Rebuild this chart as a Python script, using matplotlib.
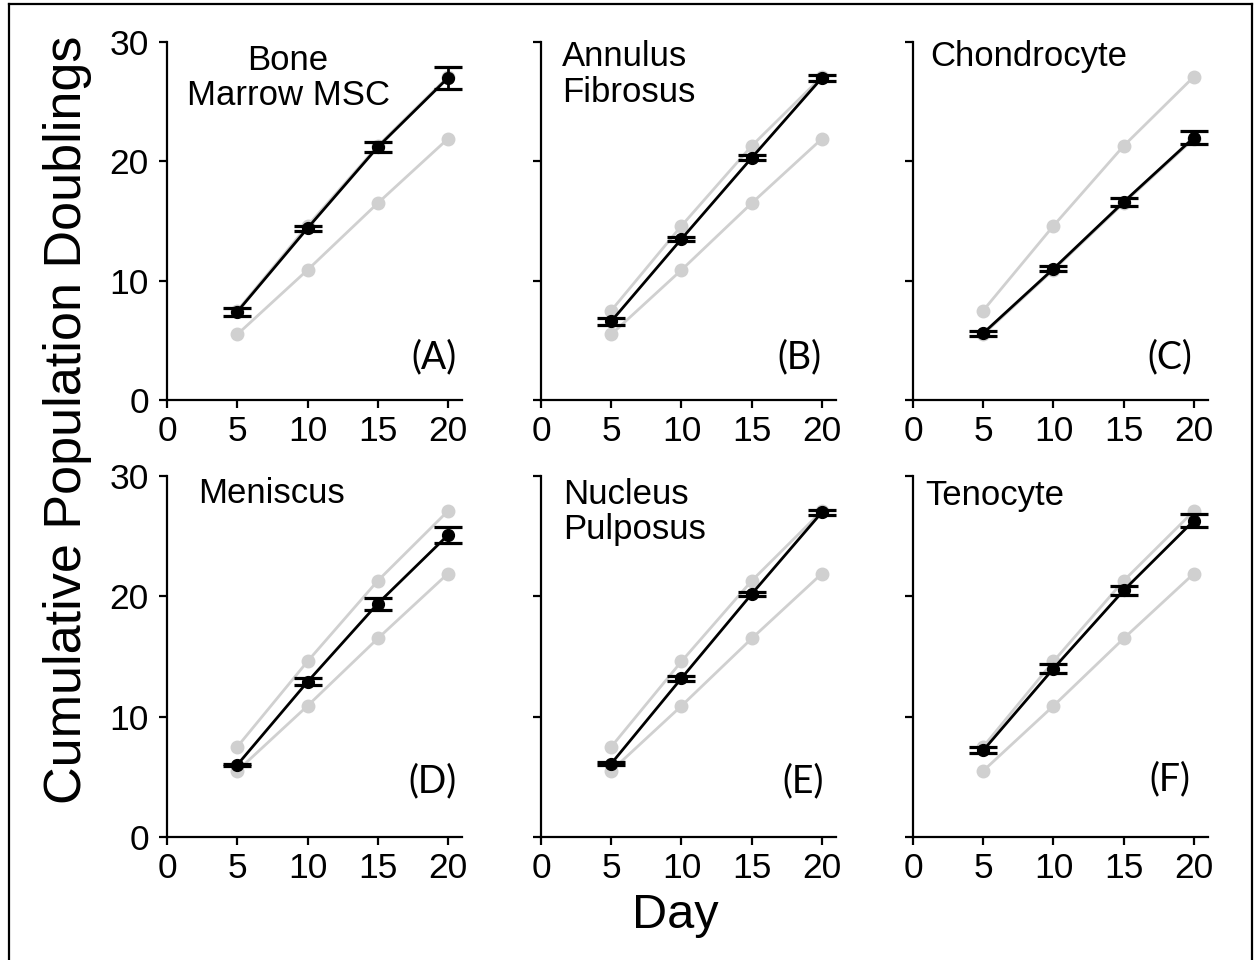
import matplotlib
matplotlib.use("Agg")
import matplotlib.pyplot as plt
from matplotlib.lines import Line2D

plt.rcParams['font.family'] = ['Liberation Sans', 'DejaVu Sans']

# data
days = [5, 10, 15, 20]
x_ticks = [0, 5, 10, 15, 20]
y_ticks = [0, 10, 20, 30]

panel_names = ["Bone\nMarrow MSC", "Annulus\nFibrosus", "Chondrocyte",
               "Meniscus", "Nucleus\nPulposus", "Tenocyte"]
panel_tags = ["(A)", "(B)", "(C)", "(D)", "(E)", "(F)"]

bm_msc = [7.4, 14.4, 21.2, 27.0]
bm_msc_err = [0.35, 0.2, 0.45, 0.9]
annulus = [6.6, 13.5, 20.3, 27.0]
annulus_err = [0.3, 0.15, 0.2, 0.25]
chondro = [5.6, 11.0, 16.6, 22.0]
chondro_err = [0.2, 0.2, 0.35, 0.55]
meniscus = [6.0, 12.9, 19.4, 25.1]
meniscus_err = [0.1, 0.3, 0.5, 0.65]
nucleus = [6.1, 13.2, 20.2, 27.0]
nucleus_err = [0.1, 0.2, 0.2, 0.2]
tenocyte = [7.2, 14.0, 20.5, 26.3]
tenocyte_err = [0.25, 0.35, 0.4, 0.55]

# grey reference curves (highest and lowest group)
ref_high = [7.5, 14.6, 21.3, 27.1]
ref_low = [5.5, 10.9, 16.5, 21.9]

means = [bm_msc, annulus, chondro, meniscus, nucleus, tenocyte]
errs = [bm_msc_err, annulus_err, chondro_err, meniscus_err, nucleus_err, tenocyte_err]

# layout (figure fractions)
lefts = [0.1329, 0.4304, 0.7263]
bottoms = [0.5833, 0.1281]
heights = [0.3729, 0.376]
width = 0.2347

# panel title placement in axes fraction: (x, y, ha)
title_pos = [(0.41, 0.9, 'center'), (0.07, 0.91, 'left'), (0.06, 0.96, 'left'),
             (0.105, 0.953, 'left'), (0.075, 0.9, 'left'), (0.04, 0.946, 'left')]
tag_pos = [(0.905, 0.12), (0.875, 0.12), (0.87, 0.12),
           (0.9, 0.155), (0.89, 0.155), (0.87, 0.16)]

gray = '#d0d0d0'

fig = plt.figure(figsize=(12.57, 9.6), dpi=100)

for i in range(6):
    r, c = divmod(i, 3)
    ax = fig.add_axes([lefts[c], bottoms[r], width, heights[r]])
    ax.plot(days, ref_high, '-o', color=gray, lw=2, ms=9, zorder=2, clip_on=False)
    ax.plot(days, ref_low, '-o', color=gray, lw=2, ms=9, zorder=2, clip_on=False)
    ax.errorbar(days, means[i], yerr=errs[i], fmt='-o', color='black', lw=2,
                ms=8.5, elinewidth=2, capsize=10, capthick=2.3, zorder=3, clip_on=False)

    ax.set_xlim(0, 21)
    ax.set_ylim(0, 30)
    ax.set_xticks(x_ticks)
    ax.set_yticks(y_ticks)
    for s in ['top', 'right']:
        ax.spines[s].set_visible(False)
    for s in ['left', 'bottom']:
        ax.spines[s].set_linewidth(1.6)
    ax.tick_params(direction='out', length=6, width=1.6, labelsize=25.5)
    ax.tick_params(axis='x', pad=5)
    ax.tick_params(axis='y', pad=7)
    if c != 0:
        ax.tick_params(labelleft=False)

    tx, ty, ha = title_pos[i]
    ax.text(tx, ty, panel_names[i], transform=ax.transAxes, ha=ha, va='center',
            fontsize=25, linespacing=1.1)
    ax.text(tag_pos[i][0], tag_pos[i][1], panel_tags[i], transform=ax.transAxes,
            ha='center', va='center', fontsize=27, family=['Lato', 'DejaVu Sans'])

fig.text(0.054, 0.5625, "Cumulative Population Doublings", rotation=90,
         ha='center', va='center', fontsize=37.5)
fig.text(0.537, 0.0333, "Day", ha='center', va='baseline', fontsize=35)

# frame around the figure
fig.add_artist(Line2D([0.0072, 0.0072], [0, 0.9958], transform=fig.transFigure, color='black', lw=1.6))
fig.add_artist(Line2D([0.0072, 0.996], [0.9958, 0.9958], transform=fig.transFigure, color='black', lw=1.6))
fig.add_artist(Line2D([0.996, 0.996], [0, 0.9958], transform=fig.transFigure, color='black', lw=1.6))

fig.savefig("out.png", dpi=100)
